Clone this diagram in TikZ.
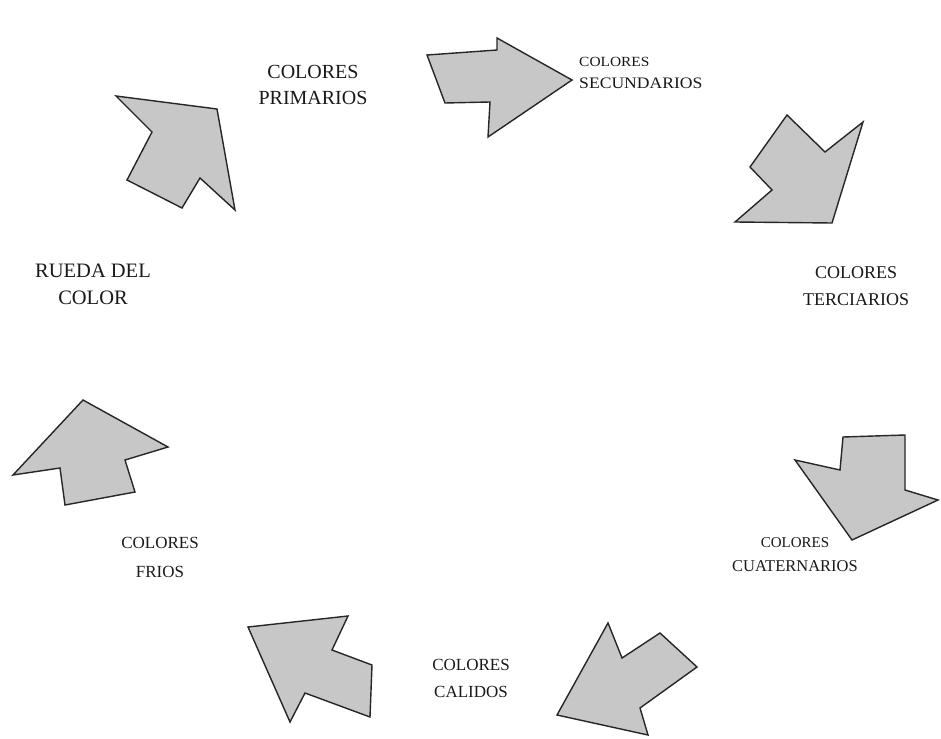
\documentclass[tikz,border=0pt]{standalone}
\usepackage{fontspec}
\setmainfont{Liberation Serif}
\tikzset{
  blockarrow/.style={fill=black!22, draw=black!85, line width=1.4pt, line join=miter},
  lbl/.style={align=center, inner sep=0pt, text=black!90},
  big/.style={font=\fontsize{20}{26}\selectfont},
  mid/.style={font=\fontsize{18}{27}\selectfont},
  small/.style={font=\fontsize{16}{22}\selectfont}
}
\begin{document}
\begin{tikzpicture}[x=1pt,y=-1pt]
\useasboundingbox (0,0) rectangle (941,738);
% arrows
\draw[blockarrow] (116,96) -- (217,109) -- (235,210) -- (200,178) -- (182,208) -- (127,180) -- (152,132) -- cycle;
\draw[blockarrow] (427,55) -- (497,50) -- (497,38) -- (572,80) -- (488,137) -- (490,102) -- (445,103) -- cycle;
\draw[blockarrow] (787,115) -- (825,152) -- (863,122) -- (832,223) -- (735,222) -- (772,190) -- (750,167) -- cycle;
\draw[blockarrow] (843,437) -- (905,435) -- (905,490) -- (938,500) -- (852,540) -- (795,460) -- (840,470) -- cycle;
\draw[blockarrow] (83,400) -- (168,447) -- (125,460) -- (135,492) -- (65,505) -- (60,468) -- (13,475) -- cycle;
\draw[blockarrow] (248,627) -- (348,616) -- (332,650) -- (372,665) -- (370,717) -- (305,693) -- (290,722) -- cycle;
\draw[blockarrow] (608,623) -- (622,658) -- (660,633) -- (697,667) -- (640,708) -- (648,735) -- (557,715) -- cycle;
% labels
\node[lbl,big] (prim) at (313,85) {COLORES\\PRIMARIOS};
\node[lbl,small,align=left,anchor=west,xscale=1.1] (sec) at (579,73) {\fontsize{14}{20}\selectfont COLORES\\SECUNDARIOS};
\node[lbl,mid] (ter) at (856,286) {COLORES\\TERCIARIOS};
\node[lbl,font=\fontsize{20.5}{27}\selectfont] (rueda) at (93,284) {RUEDA DEL\\COLOR};
\node[lbl,font=\fontsize{16.5}{24}\selectfont] (cuat) at (795,555) {\fontsize{15}{24}\selectfont COLORES\\\fontsize{16.5}{24}\selectfont CUATERNARIOS};
\node[lbl,font=\fontsize{17}{29}\selectfont] (frios) at (160,557) {COLORES\\FRIOS};
\node[lbl,font=\fontsize{17}{27}\selectfont] (cal) at (471,678) {COLORES\\CALIDOS};
\end{tikzpicture}
\end{document}
